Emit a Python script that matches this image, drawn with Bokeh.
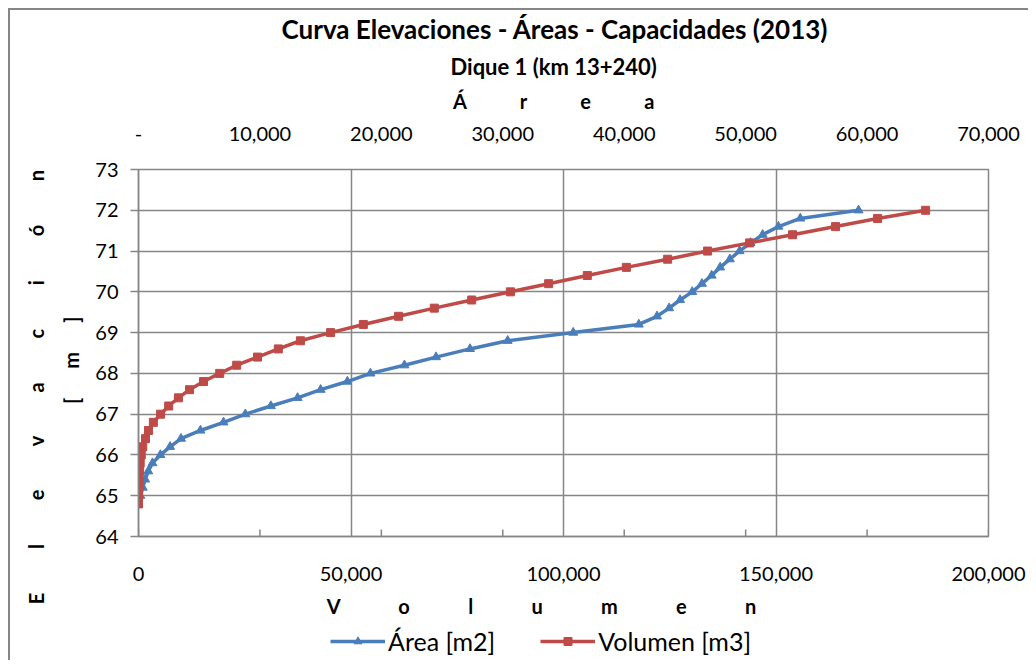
from bokeh.plotting import figure
from bokeh.layouts import column
from bokeh.models import (Range1d, LinearAxis, FixedTicker, NumeralTickFormatter,
                          Legend, LegendItem, Title)
from bokeh.embed import file_html
from bokeh.resources import INLINE

# ---------------- data ----------------
elevacion = [64.8, 65.0, 65.2, 65.4, 65.6, 65.8, 66.0, 66.2, 66.4, 66.6, 66.8,
             67.0, 67.2, 67.4, 67.6, 67.8, 68.0, 68.2, 68.4, 68.6, 68.8,
             69.0, 69.2, 69.4, 69.6, 69.8, 70.0, 70.2, 70.4, 70.6, 70.8,
             71.0, 71.2, 71.4, 71.6, 71.8, 72.0]
area_m2 = [0, 150, 350, 550, 800, 1150, 1800, 2600, 3500, 5100, 7000,
           8800, 10900, 13100, 15000, 17200, 19100, 21900, 24500, 27300, 30400,
           35800, 41200, 42700, 43700, 44600, 45600, 46400, 47200, 47900, 48700,
           49500, 50400, 51400, 52700, 54500, 59300]
volumen_m3 = [0, 30, 80, 150, 250, 400, 650, 1000, 1650, 2350, 3500,
              5200, 7100, 9400, 12000, 15300, 19100, 23100, 28000, 32900, 38100,
              45200, 52900, 61200, 69600, 78400, 87500, 96500, 105600, 114800, 124500,
              133900, 143800, 153900, 164000, 173900, 185200]

vol_ticks = [0, 50000, 100000, 150000, 200000]
area_ticks = [0, 10000, 20000, 30000, 40000, 50000, 60000, 70000]
elev_ticks = [64, 65, 66, 67, 68, 69, 70, 71, 72, 73]

titulo1 = "Curva Elevaciones - Áreas - Capacidades (2013)"
titulo2 = "Dique 1 (km 13+240)"
NB = "\u00a0"


def espaciado(txt, n, cola=0):
    return (NB * n).join(txt.split(" ")) + NB * cola


# ---------------- styling ----------------
GRAY = "#868686"
BLUE = "#4A7EBB"
RED = "#BE4B48"
FONT = "Lato"
W = 1018

# ---------------- main figure ----------------
p = figure(width=W, height=614, output_backend="svg", toolbar_location=None,
           x_range=Range1d(0, 200000), y_range=Range1d(64, 73),
           min_border_left=128, min_border_right=40, min_border_top=159,
           min_border_bottom=88, x_axis_location=None, y_axis_location=None,
           background_fill_color="white", border_fill_color="white")
p.extra_x_ranges = {"area": Range1d(0, 70000)}
p.outline_line_color = GRAY
p.outline_line_width = 1.5

p.title.text = titulo1
p.title.align = "left"
p.title.offset = 143
p.title.text_font = FONT
p.title.text_font_size = "26px"
p.title.text_font_style = "bold"
p.title.text_color = "black"
p.title.standoff = 0

# bottom axis (volumen)
xb = LinearAxis(ticker=FixedTicker(ticks=vol_ticks),
                formatter=NumeralTickFormatter(format="0,0"))
xb.major_tick_in = 0
xb.major_tick_out = 0
xb.minor_tick_line_color = None
xb.axis_line_color = GRAY
xb.axis_line_width = 1.5
xb.major_label_standoff = 30
xb.major_label_text_font = FONT
xb.major_label_text_font_size = "20px"
xb.major_label_text_color = "black"
xb.axis_label = espaciado("V o l u m e n", 12, 9)
xb.axis_label_standoff = 10
xb.axis_label_text_font = FONT
xb.axis_label_text_font_size = "20px"
xb.axis_label_text_font_style = "bold"
xb.axis_label_text_color = "black"
p.add_layout(xb, "below")

# top axis (área) - closest to the frame
xt = LinearAxis(x_range_name="area", ticker=FixedTicker(ticks=area_ticks),
                formatter=NumeralTickFormatter(format="0,0"),
                major_label_overrides={0: "-"})
xt.major_tick_in = 0
xt.major_tick_out = 0
xt.minor_tick_line_color = None
xt.axis_line_color = None
xt.major_label_standoff = 29
xt.major_label_text_font = FONT
xt.major_label_text_font_size = "20px"
xt.major_label_text_color = "black"
xt.axis_label = espaciado("Á r e a", 11, 4)
xt.axis_label_standoff = 11
xt.axis_label_text_font = FONT
xt.axis_label_text_font_size = "20px"
xt.axis_label_text_font_style = "bold"
xt.axis_label_text_color = "black"
p.add_layout(xt, "above")

# subtitle, between the top axis and the main title
sub = Title(text=titulo2, align="left", offset=312, text_font=FONT,
            text_font_size="22px", text_font_style="bold", text_color="black",
            standoff=12)
p.add_layout(sub, "above")

# left axis (elevación)
yl = LinearAxis(ticker=FixedTicker(ticks=elev_ticks))
yl.major_tick_in = 0
yl.major_tick_out = 8
yl.major_tick_line_color = GRAY
yl.major_tick_line_width = 1.5
yl.minor_tick_line_color = None
yl.axis_line_color = GRAY
yl.axis_line_width = 1.5
yl.major_label_standoff = 12
yl.major_label_text_font = FONT
yl.major_label_text_font_size = "20px"
yl.major_label_text_color = "black"
yl.axis_label = (espaciado("E l e v a c i ó n", 9, 14) + "\n" +
                 espaciado("[ m ]", 6, 3))
yl.axis_label_standoff = 9
yl.axis_label_text_font = FONT
yl.axis_label_text_font_size = "20px"
yl.axis_label_text_font_style = "bold"
yl.axis_label_text_color = "black"
yl.axis_label_text_line_height = 1.45
p.add_layout(yl, "left")

# grids
p.xgrid.ticker = FixedTicker(ticks=vol_ticks)
p.ygrid.ticker = FixedTicker(ticks=elev_ticks)
for g in (p.xgrid, p.ygrid):
    g.grid_line_color = GRAY
    g.grid_line_width = 1.5

# small inside ticks of the área scale along the bottom edge
p.segment(x0=area_ticks, x1=area_ticks, y0=[64] * len(area_ticks),
          y1=[64.17] * len(area_ticks), x_range_name="area",
          line_color=GRAY, line_width=1.5)

# series
p.line(area_m2, elevacion, x_range_name="area", line_color=BLUE, line_width=3.5)
p.scatter(area_m2, elevacion, x_range_name="area", marker="triangle", size=9,
          fill_color=BLUE, line_color=BLUE)
p.line(volumen_m3, elevacion, line_color=RED, line_width=3.5)
p.scatter(volumen_m3, elevacion, marker="square", size=8,
          fill_color=RED, line_color=RED)

# ---------------- legend strip ----------------
# same series, drawn outside this strip's ranges (so clipped) - only used by the legend
lg = figure(width=W, height=36, output_backend="svg", toolbar_location=None,
            min_border=0, x_axis_location=None, y_axis_location=None,
            x_range=Range1d(0, 1), y_range=Range1d(0, 1),
            outline_line_color=None, background_fill_color="white",
            border_fill_color="white")
lg.xgrid.visible = False
lg.ygrid.visible = False
kb1 = lg.line(area_m2, elevacion, line_color=BLUE, line_width=3.5)
kb2 = lg.scatter(area_m2, elevacion, marker="triangle", size=9,
                 fill_color=BLUE, line_color=BLUE)
kr1 = lg.line(volumen_m3, elevacion, line_color=RED, line_width=3.5)
kr2 = lg.scatter(volumen_m3, elevacion, marker="square", size=8,
                 fill_color=RED, line_color=RED)
legend = Legend(items=[LegendItem(label="Área [m2]", renderers=[kb1, kb2]),
                       LegendItem(label="Volumen [m3]", renderers=[kr1, kr2])],
                location=(192, 4), orientation="horizontal",
                glyph_width=55, glyph_height=20, label_standoff=3, spacing=45,
                padding=0, margin=0, border_line_color=None,
                background_fill_alpha=0,
                label_text_font=FONT, label_text_font_size="25px",
                label_text_color="black")
lg.add_layout(legend, "center")

layout = column(p, lg, spacing=0,
                styles={"margin-left": "8px", "margin-top": "8px",
                        "border-left": "2px solid #868686",
                        "border-top": "2px solid #868686"})

open("out.html", "w").write(file_html(layout, INLINE))
